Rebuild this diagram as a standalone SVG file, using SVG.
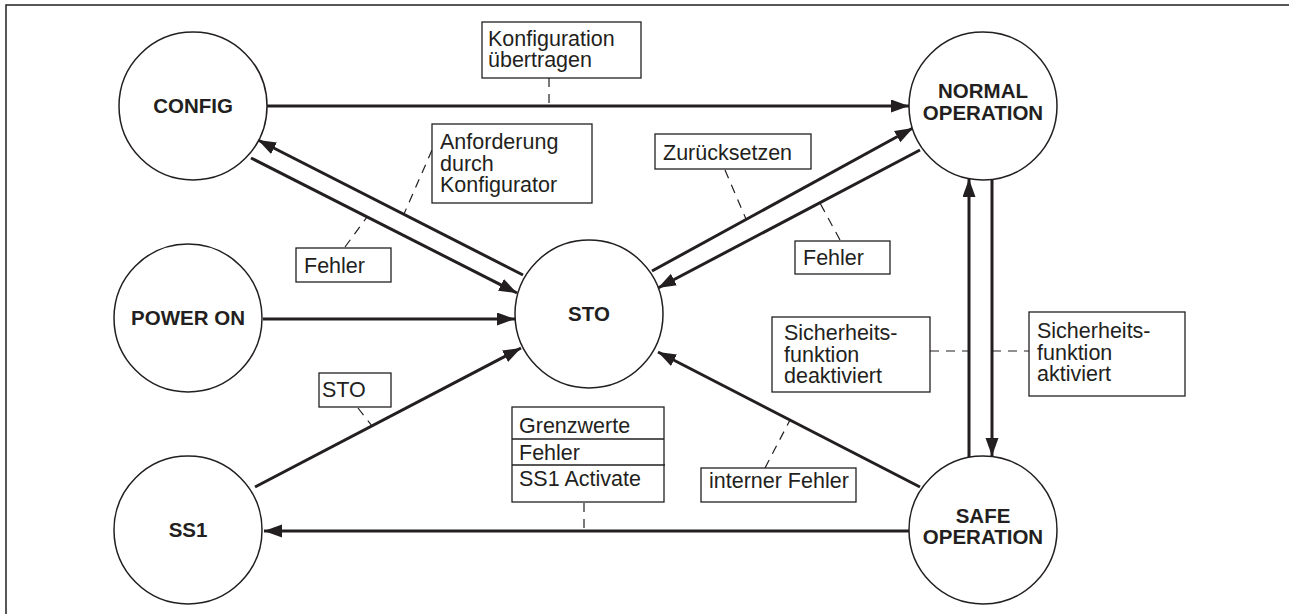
<svg xmlns="http://www.w3.org/2000/svg" width="1289" height="614" viewBox="0 0 1289 614">
<style>
.frame{fill:none;stroke:#231f20;stroke-width:1.5}
.st{fill:#fff;stroke:#231f20;stroke-width:1.5}
.nt{font-family:"Liberation Sans",Arial,sans-serif;font-weight:bold;font-size:20.5px;fill:#231f20;text-anchor:middle}
.lb{fill:#fff;stroke:#231f20;stroke-width:1.3}
.lt{font-family:"Liberation Sans",Arial,sans-serif;font-size:21.5px;fill:#231f20}
.cn{fill:none;stroke:#231f20;stroke-width:3;marker-end:url(#ah)}
.ld{fill:none;stroke:#231f20;stroke-width:1.2;stroke-dasharray:9,7}
</style>
<defs>
<marker id="ah" markerUnits="userSpaceOnUse" markerWidth="19" markerHeight="14" refX="18" refY="6.5" orient="auto">
<path d="M0,0 L18,6.5 L0,13 z" fill="#231f20"/>
</marker>
</defs>
<rect width="1289" height="614" fill="#fff"/>
<path class="frame" d="M6,614 L6,5 L1289,5"/>

<g id="connectors">
<path class="cn" d="M267,106 L909,106"/>
<path class="cn" d="M523,275 L258,140"/>
<path class="cn" d="M251,158 L517,293"/>
<path class="cn" d="M652,271 L913,128"/>
<path class="cn" d="M920,150 L658,288"/>
<path class="cn" d="M263,319 L515,319"/>
<path class="cn" d="M255,487 L521,348"/>
<path class="cn" d="M920,487 L658,352"/>
<path class="cn" d="M909,531 L264,531"/>
<path class="cn" d="M969,457 L969,179"/>
<path class="cn" d="M992,180 L992,456"/>
<path class="ld" d="M549,78 L549,106"/>
<path class="ld" d="M432,150 L404,214"/>
<path class="ld" d="M345,247 L367,217"/>
<path class="ld" d="M725,170 L746,219"/>
<path class="ld" d="M840,240 L820,203"/>
<path class="ld" d="M930,351 L969,351"/>
<path class="ld" d="M992,351 L1029,351"/>
<path class="ld" d="M358,408 L372,426"/>
<path class="ld" d="M584,503 L584,531"/>
<path class="ld" d="M765,468 L790,420"/>
</g>

<g id="config"><circle class="st" cx="193" cy="106" r="74"/><text class="nt" x="193" y="113">CONFIG</text></g>
<g id="normal-operation"><circle class="st" cx="983" cy="106" r="74"/><text class="nt" x="983" y="98">NORMAL</text><text class="nt" x="983" y="120">OPERATION</text></g>
<g id="power-on"><circle class="st" cx="188" cy="318" r="74"/><text class="nt" x="188" y="325">POWER ON</text></g>
<g id="sto"><circle class="st" cx="589" cy="314" r="74"/><text class="nt" x="589" y="321">STO</text></g>
<g id="ss1"><circle class="st" cx="188" cy="530" r="74"/><text class="nt" x="188" y="537">SS1</text></g>
<g id="safe-operation"><circle class="st" cx="983" cy="530" r="74"/><text class="nt" x="983" y="523">SAFE</text><text class="nt" x="983" y="544">OPERATION</text></g>

<g id="label-konfiguration"><rect class="lb" x="482" y="22" width="159" height="56"/><text class="lt" x="488" y="46">Konfiguration</text><text class="lt" x="488" y="67">übertragen</text></g>
<g id="label-anforderung"><rect class="lb" x="432" y="124" width="160" height="79"/><text class="lt" x="440" y="149">Anforderung</text><text class="lt" x="440" y="171">durch</text><text class="lt" x="440" y="192">Konfigurator</text></g>
<g id="label-zuruecksetzen"><rect class="lb" x="655" y="134" width="156" height="35"/><text class="lt" x="663" y="160">Zurücksetzen</text></g>
<g id="label-fehler-left"><rect class="lb" x="296" y="248" width="95" height="34"/><text class="lt" x="304" y="273">Fehler</text></g>
<g id="label-fehler-right"><rect class="lb" x="795" y="241" width="95" height="33"/><text class="lt" x="803" y="265">Fehler</text></g>
<g id="label-deaktiviert"><rect class="lb" x="772" y="317" width="158" height="75"/><text class="lt" x="784" y="340">Sicherheits-</text><text class="lt" x="784" y="362">funktion</text><text class="lt" x="784" y="383">deaktiviert</text></g>
<g id="label-aktiviert"><rect class="lb" x="1029" y="312" width="156" height="84"/><text class="lt" x="1037" y="338">Sicherheits-</text><text class="lt" x="1037" y="360">funktion</text><text class="lt" x="1037" y="381">aktiviert</text></g>
<g id="label-sto"><rect class="lb" x="319" y="373" width="72" height="34"/><text class="lt" x="322" y="397">STO</text></g>
<g id="label-grenzwerte"><rect class="lb" x="512" y="407" width="152" height="95"/><path class="lb" d="M512,439 L664,439 M512,465 L665,465"/><text class="lt" x="519" y="433">Grenzwerte</text><text class="lt" x="519" y="460">Fehler</text><text class="lt" x="519" y="486">SS1 Activate</text></g>
<g id="label-interner-fehler"><rect class="lb" x="701" y="468" width="155" height="34"/><text class="lt" x="709" y="488">interner Fehler</text></g>
</svg>
